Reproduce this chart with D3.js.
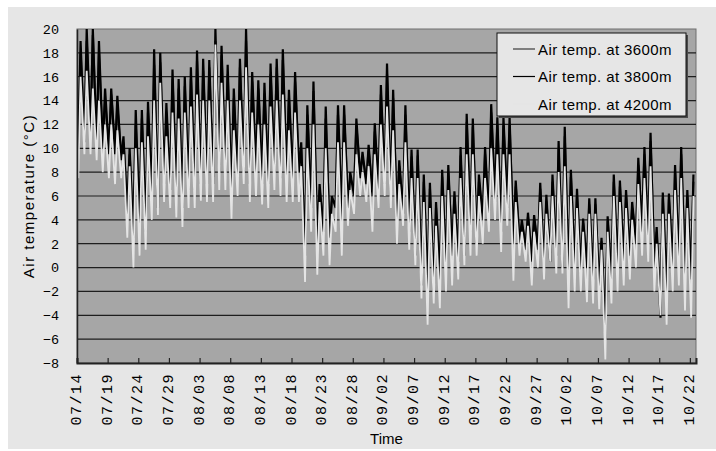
<!DOCTYPE html>
<html>
<head>
<meta charset="utf-8">
<script src="https://cdn.jsdelivr.net/npm/d3@7"></script>
<style>
  html, body { margin: 0; padding: 0; background: #ffffff; }
  svg { display: block; }
</style>
</head>
<body>
<svg id="chart" width="716" height="451"></svg>
<script>
// Daily extremes of air temperature (°C), 07/14 .. 10/22, one value per day.
const hi3600 = [
  18, 19, 19.5, 18, 14, 14.5, 13.5, 10.5, 9.5, 12,
  12.5, 13, 17, 17.2, 13, 15.8, 15, 15.2, 15.8, 17.3,
  16.5, 16.8, 19, 17.8, 16.2, 14.2, 16.8, 19, 15.6, 15,
  14.6, 16.2, 16.8, 17.4, 14.2, 15.6, 10, 12.8, 14.8, 6.5,
  12.5, 5.5, 12.8, 12.8, 7.5, 11.8, 9.2, 9.8, 11.4, 14.5,
  16.2, 14.2, 8.5, 12.8, 9.3, 9.4, 7.2, 6.6, 5, 7.6,
  8, 6, 9.4, 12.2, 11.8, 7.2, 9.5, 13, 12, 11.9,
  12, 6.8, 3.6, 4.2, 4, 6.6, 5.6, 7.2, 10, 11,
  7.6, 6, 3.7, 5.3, 5.3, 2.2, 3.9, 7.2, 6.8, 6,
  5, 8.6, 9.5, 10.6, 3, 5.8, 5.7, 8, 9.5, 6,
  7.2
];
const lo3600 = [
  10.5, 11, 11.5, 10.6, 10.5, 10, 10, 9.6, 5.2, 3.2,
  4.2, 3.6, 6.6, 5.8, 7.6, 7.2, 6.6, 5.8, 7.2, 7.1,
  7.6, 7.7, 7.6, 8.6, 8.7, 6.7, 8.1, 8.7, 7.6, 8.6,
  7.7, 7.6, 8.6, 8.2, 8.1, 7.7, 8.6, 1.8, 5.7, 2.8,
  3.7, 3.2, 5.6, 4.7, 5.6, 6.7, 8.1, 7.6, 6.7, 7.1,
  7.7, 6.6, 4.7, 5.1, 3.7, 1.7, -0.8, -1.3, -1.4, -0.3,
  0.7, 1.6, 1.2, 1.7, 3.6, 2.7, 4.6, 4.7, 6.1, 3.7,
  5.6, 2.7, 2.6, 2.2, 1.2, 2.1, 0.7, 1.2, 1.6, 0.7,
  -0.3, 0.6, 0.2, 0.6, -0.3, -1.3, -5, -0.3, 0.7, 1.2,
  1.6, 2.7, 3.6, 2.7, 0.7, -3.4, -1.3, 0.7, 1.2, 0.2,
  -0.3
];
const hi3800 = [
  19, 20, 20, 19, 15, 15, 14.4, 11, 10, 13.2,
  13.2, 13.9, 18.3, 18, 13.8, 16.6, 15.8, 16, 16.8, 18.2,
  17.5, 17.4, 20, 18.6, 17, 15, 17.5, 20, 16.4, 15.7,
  15.5, 17.1, 17.5, 18.3, 14.9, 16.4, 10.5, 13.6, 15.6, 7,
  13.5, 6, 13.6, 13.6, 8, 12.5, 9.7, 10.3, 12.1, 15.3,
  17.1, 14.9, 9, 13.6, 9.9, 9.9, 7.8, 7.1, 5.5, 8.2,
  8.6, 6.4, 10.1, 12.9, 12.5, 7.8, 10.1, 13.7, 12.6, 12.6,
  12.6, 7.3, 4, 4.6, 4.4, 7.1, 6.1, 7.8, 10.6, 11.8,
  8.2, 6.6, 4.1, 5.8, 5.8, 2.5, 4.3, 7.8, 7.3, 6.5,
  5.5, 9.2, 10.1, 11.3, 3.4, 6.3, 6.2, 8.6, 10.1, 6.5,
  7.8
];
const lo3800 = [
  10, 10.5, 11, 10, 10, 9.5, 9.5, 9, 4.5, 2.5,
  3.5, 3, 6, 5, 7, 6.5, 6, 5, 6.5, 6.5,
  7, 7, 7, 8, 8, 6, 7.5, 8, 7, 8,
  7, 7, 8, 7.5, 7.5, 7, 8, 1, 5, 2,
  3, 2.5, 5, 4, 5, 6, 7.5, 7, 6, 6.5,
  7, 6, 4, 4.5, 3, 1, -1.5, -2, -2, -1,
  0, 1, 0.5, 1, 3, 2, 4, 4, 5.5, 3,
  5, 2, 2, 1.5, 0.5, 1.5, 0, 0.5, 1, 0,
  -1, 0, -0.5, 0, -1, -2, -6, -1, 0, 0.5,
  1, 2, 3, 2, 0, -4.2, -2, 0, 0.5, -0.5,
  -1
];
const hi4200 = [
  16, 16.5, 15, 14, 12, 12, 11.5, 9.5, 8.5, 10,
  10.5, 11, 14, 15.5, 11, 13, 12.5, 13, 13.5, 14.5,
  14, 14, 18.7, 15.5, 14, 11.5, 14, 16.8, 13, 12,
  12, 13.5, 14, 14.5, 11.5, 13, 8.5, 10, 12, 5.5,
  10, 4.5, 10.5, 10.5, 6.5, 9.5, 8, 8.5, 9.5, 12,
  13.5, 11.5, 7, 10.5, 7.5, 7.5, 5.5, 5, 3.5, 6,
  6.5, 4.5, 7.5, 9.5, 9.5, 6, 7.5, 10, 9.5, 9.5,
  9.5, 5.5, 3, 3.5, 3, 5.5, 4.5, 6, 8, 8.5,
  6, 5, 3, 4.5, 4.5, 1.5, 3, 6, 5.5, 5,
  4, 7, 7.5, 8.5, 2, 4.5, 4.5, 6.5, 7.5, 5,
  6
];
const lo4200 = [
  7.5, 9.5, 9.5, 9, 8, 7.5, 7, 7.5, 2.5, 0,
  1, 1.5, 4, 4.4, 5.5, 5, 4.2, 3.4, 5, 5,
  5.6, 5.5, 5.5, 6.5, 6.5, 4.1, 6, 7, 5.5, 6,
  5.3, 5, 6.5, 6, 5.5, 5.5, 5.5, -1.2, 3, -0.6,
  1, 0.2, 3, 1, 3.5, 4.5, 6, 5.5, 3, 5,
  6, 5, 2, 3.5, 1.5, 0.2, -2.6, -4.8, -3, -3.4,
  -2, -1.5, -1, 0.2, 1, 1, 2, 3, 4, 1.3,
  3.5, -1.1, 1, 0.5, -1.5, 0, -1, 0.5, -0.5, -0.5,
  -3.4, -2, -2, -2.9, -3, -3.5, -7.7, -3, -2, -1.5,
  -1, 0, 1, 0.5, -2, -4, -4.8, -2, -1.5, -3.6,
  -4.2
];

const seriesNames = ["Air temp. at 3600m", "Air temp. at 3800m", "Air temp. at 4200m"];
const seriesColors = ["#3a3a3a", "#000000", "#e4e4e4"];
const xTickLabels = ["07/14", "07/19", "07/24", "07/29", "08/03", "08/08", "08/13",
  "08/18", "08/23", "08/28", "09/02", "09/07", "09/12", "09/17", "09/22", "09/27",
  "10/02", "10/07", "10/12", "10/17", "10/22"];
const yTicks = [20, 18, 16, 14, 12, 10, 8, 6, 4, 2, 0, -2, -4, -6, -8];

const start = new Date(Date.UTC(2009, 6, 14));
const end = new Date(Date.UTC(2009, 9, 23));

// Each day: minimum in the early morning, maximum in the afternoon.
function buildSeries(lo, hi) {
  const pts = [];
  lo.forEach((v, i) => {
    pts.push({ t: d3.utcHour.offset(d3.utcDay.offset(start, i), 5), v: v });
    pts.push({ t: d3.utcHour.offset(d3.utcDay.offset(start, i), 14), v: hi[i] });
  });
  return pts;
}
const series = [buildSeries(lo3600, hi3600), buildSeries(lo3800, hi3800), buildSeries(lo4200, hi4200)];

const svg = d3.select("#chart");
const plot = { left: 77, right: 696, top: 29, bottom: 363 };

const x = d3.scaleUtc().domain([start, end]).range([plot.left, plot.right]);
const y = d3.scaleLinear().domain([-8, 20]).range([plot.bottom, plot.top]);

// Chart area background
svg.append("rect").attr("x", 8).attr("y", 7).attr("width", 708).attr("height", 442)
  .attr("fill", "#e6e6e6");

// Plot area
svg.append("rect").attr("x", plot.left).attr("y", plot.top)
  .attr("width", plot.right - plot.left).attr("height", plot.bottom - plot.top)
  .attr("fill", "#a6a6a6").attr("stroke", "#6e6e6e").attr("stroke-width", 1);

svg.append("clipPath").attr("id", "plotclip").append("rect")
  .attr("x", plot.left).attr("y", plot.top)
  .attr("width", plot.right - plot.left).attr("height", plot.bottom - plot.top);

// Horizontal gridlines
svg.append("g").selectAll("line").data(yTicks.filter(v => v > -8 && v < 20)).join("line")
  .attr("x1", plot.left).attr("x2", plot.right)
  .attr("y1", d => y(d)).attr("y2", d => y(d))
  .attr("stroke", "#1e1e1e").attr("stroke-width", 1.2);

// Series
const line = d3.line().x(d => x(d.t)).y(d => y(d.v));
const gLines = svg.append("g").attr("clip-path", "url(#plotclip)");
series.forEach((s, i) => {
  gLines.append("path").datum(s).attr("d", line)
    .attr("fill", "none").attr("stroke", seriesColors[i])
    .attr("stroke-width", i === 2 ? 1.8 : 2.2).attr("stroke-linejoin", "miter");
});

// Y axis
const yAxis = d3.axisLeft(y).tickValues(yTicks).tickSize(0).tickPadding(18)
  .tickFormat(d => d < 0 ? "\u2212" + Math.abs(d) : d);
const gy = svg.append("g").attr("transform", `translate(${plot.left},0)`).call(yAxis);
gy.select(".domain").attr("stroke", "#222").attr("stroke-width", 1.5);
gy.selectAll("text").attr("font-family", "Liberation Mono, monospace")
  .attr("font-size", 13.5).attr("fill", "#000");

// X axis: ticks every five days, pointing into the plot
const tickDates = xTickLabels.map((_, i) => d3.utcDay.offset(start, i * 5));
const xAxis = d3.axisBottom(x).tickValues(tickDates).tickSize(-5).tickPadding(0)
  .tickFormat((d, i) => xTickLabels[i]);
const gx = svg.append("g").attr("transform", `translate(0,${plot.bottom})`).call(xAxis);
gx.select(".domain").attr("stroke", "#222").attr("stroke-width", 2);
gx.selectAll(".tick line").attr("stroke", "#222").attr("stroke-width", 1.2);
gx.selectAll("text")
  .attr("font-family", "Liberation Mono, monospace").attr("font-size", 15).attr("fill", "#000")
  .attr("text-anchor", "end").attr("dy", null)
  .attr("letter-spacing", 1.5)
  .attr("transform", "translate(0,10) rotate(-90)")
  .attr("x", 0).attr("y", 0).attr("dominant-baseline", "central");

// Axis titles
svg.append("text").attr("transform", "translate(28,196) rotate(-90)")
  .attr("text-anchor", "middle").attr("dominant-baseline", "central")
  .attr("font-family", "Liberation Sans, Arial, sans-serif").attr("font-size", 15)
  .attr("letter-spacing", 1.5).text("Air temperature (\u00B0C)");
svg.append("text").attr("x", (plot.left + plot.right) / 2).attr("y", 438)
  .attr("text-anchor", "middle").attr("dominant-baseline", "central")
  .attr("font-family", "Liberation Sans, Arial, sans-serif").attr("font-size", 15)
  .text("Time");

// Legend
const lg = svg.append("g").attr("transform", "translate(497,33)");
lg.append("rect").attr("x", 2).attr("y", 2).attr("width", 189).attr("height", 83).attr("fill", "#4a4a4a");
lg.append("rect").attr("x", 0).attr("y", 0).attr("width", 189).attr("height", 83)
  .attr("fill", "#e6e6e6").attr("stroke", "#111").attr("stroke-width", 1);
seriesNames.forEach((name, i) => {
  const cy = 16 + i * 27.5;
  lg.append("line").attr("x1", 16).attr("x2", 38).attr("y1", cy).attr("y2", cy)
    .attr("stroke", seriesColors[i]).attr("stroke-width", 1.2);
  lg.append("text").attr("x", 41).attr("y", cy).attr("dominant-baseline", "central")
    .attr("font-family", "Liberation Sans, Arial, sans-serif").attr("font-size", 15)
    .attr("letter-spacing", 0.4).text(name);
});
</script>
</body>
</html>
